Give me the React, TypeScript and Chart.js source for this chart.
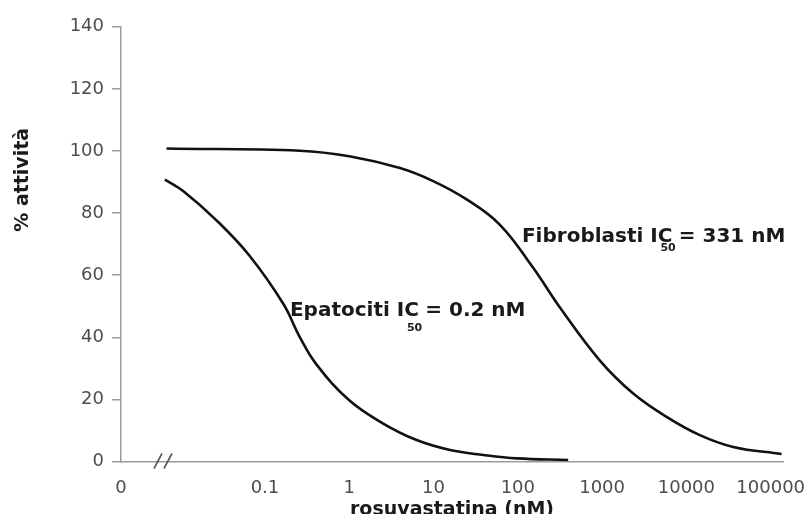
import React, { useEffect, useRef } from "react";
import { Chart, registerables } from "chart.js";

Chart.register(...registerables);

// Concentrations (nM) and % activity
const epatocitiConc = [0.0065, 0.0107, 0.027, 0.066, 0.165, 0.26, 0.41, 1.0, 2.5, 6.3, 15.7, 39, 97, 396];
const epatocitiActivity = [90.8, 87.1, 77.5, 66.2, 50.8, 40.0, 31.2, 19.7, 12.3, 6.9, 3.7, 2.1, 1.0, 0.5];

const fibroblastiConc = [0.0068, 0.26, 1.0, 4.0, 9.9, 24.7, 61, 152, 316, 942, 2340, 5820, 14450, 35900, 134600];
const fibroblastiActivity = [100.8, 100.1, 98.3, 94.5, 90.3, 84.4, 76.3, 62.4, 49.6, 32.5, 21.9, 14.4, 8.5, 4.7, 2.4];

// Axis definitions
const xAxisMin = 0.00196; // shown as "0" (axis break)
const xAxisMax = 140000;
const xTickValues = [0.1, 1, 10, 100, 1000, 10000, 100000];
const xTickLabels = ["0", "0.1", "1", "10", "100", "1000", "10000", "100000"];
const yAxisMin = 0;
const yAxisMax = 140;
const yAxisStep = 20;

const xAxisTitle = "rosuvastatina (nM)";
const yAxisTitle = "% attività";

// Curve annotations, anchored in data coordinates
const annotationMain = ["Epatociti IC", "Fibroblasti IC"];
const annotationSub = ["50", "50"];
const annotationTail = ["= 0.2 nM", "= 331 nM"];
const annotationConc = [0.198, 112];
const annotationActivity = [47, 70.8];

// styling
const FONT = "'DejaVu Sans', Verdana, sans-serif";
const subDrop = [15, 9];

const overlayPlugin = {
  id: "overlay",
  afterDraw(chart: any) {
    const { ctx, chartArea } = chart;
    const xs = chart.scales.x;
    const ys = chart.scales.y;
    ctx.save();

    // axis break marks "//"
    const by = ys.getPixelForValue(0);
    ctx.strokeStyle = "#555";
    ctx.lineWidth = 1.6;
    [37, 47].forEach((dx) => {
      const cx = chartArea.left + dx;
      ctx.beginPath();
      ctx.moveTo(cx - 4, by + 7);
      ctx.lineTo(cx + 4, by - 8);
      ctx.stroke();
    });

    // y axis title
    ctx.save();
    ctx.translate(15, chartArea.top + 153);
    ctx.rotate(-Math.PI / 2);
    ctx.fillStyle = "#1a1a1a";
    ctx.font = `bold 19px ${FONT}`;
    ctx.textAlign = "center";
    ctx.textBaseline = "middle";
    ctx.fillText(yAxisTitle, 0, 0);
    ctx.restore();

    // annotations
    ctx.fillStyle = "#1a1a1a";
    ctx.textBaseline = "alphabetic";
    ctx.textAlign = "left";
    for (let i = 0; i < annotationMain.length; i++) {
      const px = xs.getPixelForValue(annotationConc[i]);
      const py = ys.getPixelForValue(annotationActivity[i]);
      ctx.font = `bold 20px ${FONT}`;
      ctx.fillText(annotationMain[i], px, py);
      const w1 = ctx.measureText(annotationMain[i]).width;
      ctx.font = `bold 11px ${FONT}`;
      const subX = px + w1 - 12;
      ctx.fillText(annotationSub[i], subX, py + subDrop[i]);
      const w2 = ctx.measureText(annotationSub[i]).width;
      ctx.font = `bold 20px ${FONT}`;
      ctx.fillText(annotationTail[i], subX + w2 + 3, py);
    }
    ctx.restore();
  },
};

export default function App() {
  const canvasRef = useRef<HTMLCanvasElement | null>(null);

  useEffect(() => {
    if (!canvasRef.current) return;
    const chart = new Chart(canvasRef.current, {
      type: "line",
      data: {
        datasets: [
          {
            label: "Epatociti",
            data: epatocitiConc.map((c, i) => ({ x: c, y: epatocitiActivity[i] })),
            borderColor: "#111",
            borderWidth: 2.6,
            pointRadius: 0,
            tension: 0.4,
            fill: false,
          },
          {
            label: "Fibroblasti",
            data: fibroblastiConc.map((c, i) => ({ x: c, y: fibroblastiActivity[i] })),
            borderColor: "#111",
            borderWidth: 2.6,
            pointRadius: 0,
            tension: 0.4,
            fill: false,
          },
        ],
      },
      options: {
        animation: false,
        responsive: true,
        maintainAspectRatio: false,
        layout: { padding: { top: 17, right: 21, left: 0, bottom: 0 } },
        plugins: {
          legend: { display: false },
          tooltip: { enabled: false },
        },
        scales: {
          x: {
            type: "logarithmic",
            min: xAxisMin,
            max: xAxisMax,
            afterBuildTicks: (scale: any) => {
              scale.ticks = [{ value: xAxisMin }, ...xTickValues.map((v) => ({ value: v }))];
            },
            afterFit: (scale: any) => {
              scale.height = 60.5;
              scale.paddingLeft = 0;
              scale.paddingRight = 0;
            },
            ticks: {
              autoSkip: false,
              maxRotation: 0,
              padding: 8,
              color: "#4d4d4d",
              font: { family: FONT, size: 18 },
              callback: (_v: any, index: number) => xTickLabels[index],
            },
            grid: { display: false },
            border: { display: true, color: "#9b9b9b", width: 1.5 },
            title: {
              display: true,
              text: xAxisTitle,
              color: "#1a1a1a",
              font: { family: FONT, size: 19, weight: "bold" },
              padding: { top: 0, bottom: 1 },
            },
          },
          y: {
            type: "linear",
            min: yAxisMin,
            max: yAxisMax,
            afterFit: (scale: any) => {
              scale.width = 113;
            },
            ticks: {
              stepSize: yAxisStep,
              padding: 8,
              color: "#4d4d4d",
              font: { family: FONT, size: 18 },
            },
            grid: {
              display: true,
              drawOnChartArea: false,
              drawTicks: true,
              tickLength: 9,
              color: "#9b9b9b",
              lineWidth: 1.5,
            },
            border: { display: true, color: "#9b9b9b", width: 1.5 },
          },
        },
      },
      plugins: [overlayPlugin],
    } as any);
    return () => chart.destroy();
  }, []);

  return (
    <div style={{ position: "relative", width: "796px", height: "514px", marginBottom: "-8px" }}>
      <canvas ref={canvasRef} />
    </div>
  );
}
